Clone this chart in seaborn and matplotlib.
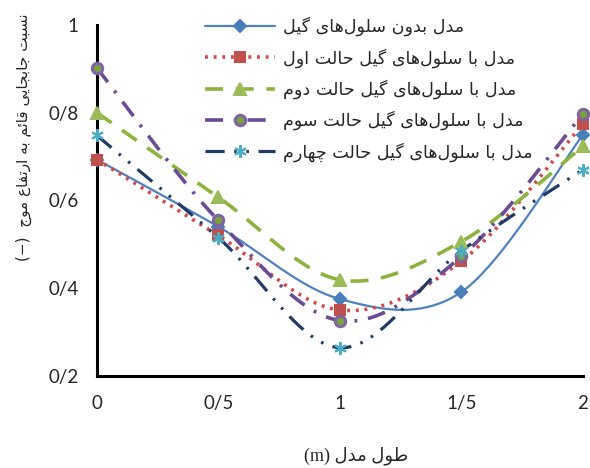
import numpy as np
import pandas as pd
import matplotlib
matplotlib.use("Agg")
import matplotlib.pyplot as plt
import seaborn as sns
from matplotlib.lines import Line2D

# data
x_vals = [0, 0.5, 1, 1.5, 2]
no_gel = [0.693, 0.540, 0.375, 0.391, 0.749]
case1 = [0.693, 0.520, 0.350, 0.461, 0.774]
case2 = [0.800, 0.607, 0.419, 0.506, 0.723]
case3 = [0.902, 0.554, 0.326, 0.472, 0.797]
case4 = [0.748, 0.515, 0.264, 0.485, 0.670]

labels = [
    "مدل بدون سلول‌های گیل",
    "مدل با سلول‌های گیل حالت اول",
    "مدل با سلول‌های گیل حالت دوم",
    "مدل با سلول‌های گیل حالت سوم",
    "مدل با سلول‌های گیل حالت چهارم",
]
y_ticks = [0.2, 0.4, 0.6, 0.8, 1.0]
y_ticklabels = ["0/2", "0/4", "0/6", "0/8", "1"]
x_ticks = [0, 0.5, 1, 1.5, 2]
x_ticklabels = ["0", "0/5", "1", "1/5", "2"]

# --- minimal Persian shaping (matplotlib has no RTL/joining support) ---
FORMS = {
    "ا": ("\uFE8D", "\uFE8E"), "د": ("\uFEA9", "\uFEAA"), "ر": ("\uFEAD", "\uFEAE"),
    "و": ("\uFEED", "\uFEEE"),
    "ب": ("\uFE8F", "\uFE90", "\uFE91", "\uFE92"), "ت": ("\uFE95", "\uFE96", "\uFE97", "\uFE98"),
    "ج": ("\uFE9D", "\uFE9E", "\uFE9F", "\uFEA0"), "ح": ("\uFEA1", "\uFEA2", "\uFEA3", "\uFEA4"),
    "س": ("\uFEB1", "\uFEB2", "\uFEB3", "\uFEB4"), "ط": ("\uFEC1", "\uFEC2", "\uFEC3", "\uFEC4"),
    "ع": ("\uFEC9", "\uFECA", "\uFECB", "\uFECC"), "ف": ("\uFED1", "\uFED2", "\uFED3", "\uFED4"),
    "ق": ("\uFED5", "\uFED6", "\uFED7", "\uFED8"), "ل": ("\uFEDD", "\uFEDE", "\uFEDF", "\uFEE0"),
    "م": ("\uFEE1", "\uFEE2", "\uFEE3", "\uFEE4"), "ن": ("\uFEE5", "\uFEE6", "\uFEE7", "\uFEE8"),
    "ه": ("\uFEE9", "\uFEEA", "\uFEEB", "\uFEEC"), "ئ": ("\uFE89", "\uFE8A", "\uFE8B", "\uFE8C"),
    "ی": ("\uFBFC", "\uFBFD", "\uFBFE", "\uFBFF"), "گ": ("\uFB92", "\uFB93", "\uFB94", "\uFB95"),
    "چ": ("\uFB7A", "\uFB7B", "\uFB7C", "\uFB7D"),
}


def fa(text):
    out = []
    for i, ch in enumerate(text):
        if ch not in FORMS:
            if ch != "\u200c":
                out.append(ch)
            continue
        prev = text[i - 1] if i > 0 else ""
        nxt = text[i + 1] if i + 1 < len(text) else ""
        jp = prev in FORMS and len(FORMS[prev]) == 4
        jn = len(FORMS[ch]) == 4 and nxt in FORMS
        f = FORMS[ch]
        if jp and jn:
            out.append(f[3])
        elif jp:
            out.append(f[1])
        elif jn:
            out.append(f[2])
        else:
            out.append(f[0])
    return "".join(out)[::-1]


def smooth(xs, ys, n=40):
    # excel-like bezier smoothing
    p = np.column_stack([xs, ys]).astype(float)
    px, py = [], []
    for i in range(len(p) - 1):
        p0 = p[i - 1] if i > 0 else p[i]
        p3 = p[i + 2] if i + 2 < len(p) else p[i + 1]
        c1 = p[i] + (p[i + 1] - p0) / 6
        c2 = p[i + 1] - (p3 - p[i]) / 6
        t = np.linspace(0, 1, n)[:, None]
        b = (1 - t) ** 3 * p[i] + 3 * (1 - t) ** 2 * t * c1 + 3 * (1 - t) * t ** 2 * c2 + t ** 3 * p[i + 1]
        px.extend(b[:, 0])
        py.extend(b[:, 1])
    return pd.DataFrame({"x": px, "y": py})


sns.set_style("white")
plt.rcParams["font.family"] = ["DejaVu Sans"]

fig, ax = plt.subplots(figsize=(5.9, 4.68), dpi=100)
fig.subplots_adjust(left=0.164, right=0.988, top=0.947, bottom=0.197)

styles = [
    dict(color="#4F81BD", ls="-", lw=1.6, marker="D", ms=6, mfc="#4A7EBB", mec="#4A7EBB"),
    dict(color="#D04A4A", ls=(0, (0.8, 1.6)), lw=2.6, marker="s", ms=7.5, mfc="#C0504D", mec="#C0504D"),
    dict(color="#8DB33F", ls=(0, (5, 3.5)), lw=2.6, marker="^", ms=9, mfc="#9BBB59", mec="#9BBB59"),
    dict(color="#6A4C93", ls=(0, (5, 3, 0.8, 3)), lw=2.6, marker="o", ms=7.5, mfc="#77A23E", mec="#8064A2"),
    dict(color="#1F3B66", ls=(0, (6, 3, 0.8, 3, 0.8, 3)), lw=2.3, marker=(6, 2, 0), ms=9, mfc="#4BACC6", mec="#4BACC6"),
]
series = [no_gel, case1, case2, case3, case4]

handles = []
for ys, st, lab in zip(series, styles, labels):
    df = smooth(x_vals, ys)
    sns.lineplot(data=df, x="x", y="y", ax=ax, color=st["color"], linestyle=st["ls"],
                 linewidth=st["lw"], sort=False, legend=False)
    mew = 1.5 if st["marker"] != "o" else 2.2
    ax.plot(x_vals, ys, ls="none", marker=st["marker"], ms=st["ms"], mfc=st["mfc"],
            mec=st["mec"], mew=mew, zorder=5, clip_on=False)
    handles.append(Line2D([0], [0], color=st["color"], ls=st["ls"], lw=st["lw"],
                          marker=st["marker"], ms=st["ms"], mfc=st["mfc"], mec=st["mec"], mew=mew))

ax.set_xlim(0, 2)
ax.set_ylim(0.2, 1.0)
ax.set_xticks(x_ticks)
ax.set_xticklabels(x_ticklabels, fontfamily="Lato", fontsize=13.5)
ax.set_yticks(y_ticks)
ax.set_yticklabels(y_ticklabels, fontfamily="Lato", fontsize=13.5)
ax.tick_params(axis="both", direction="out", length=5, width=2, color="black", pad=8)
ax.tick_params(axis="x", pad=9)
for s in ["top", "right"]:
    ax.spines[s].set_visible(False)
for s in ["left", "bottom"]:
    ax.spines[s].set_color("black")
    ax.spines[s].set_linewidth(2.2)

ax.set_xlabel("(m) " + fa("طول مدل"), fontsize=13, family=["Liberation Serif", "DejaVu Sans"])
ax.xaxis.set_label_coords(0.533, -0.2)
ax.set_ylabel("(−)  " + fa("نسبت جابجایی قائم به ارتفاع موج"), fontsize=11)
ax.yaxis.set_label_coords(-0.134, 0.68)

leg = ax.legend(handles, [fa(t) for t in labels], loc="upper left",
                bbox_to_anchor=(0.19, 1.068), frameon=False, fontsize=12.6,
                handlelength=4.0, labelspacing=0.68, handletextpad=0.45)

plt.savefig("out.png", dpi=100)
